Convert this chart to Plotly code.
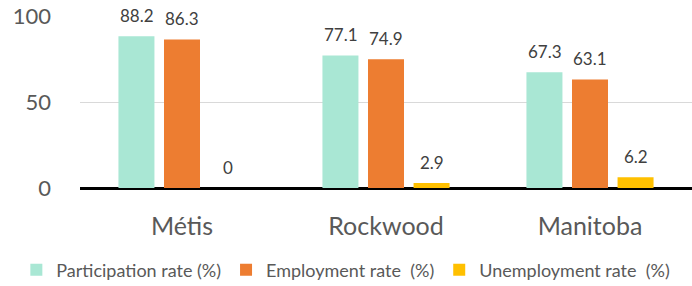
import plotly.graph_objects as go

categories = ["Métis", "Rockwood", "Manitoba"]
series_names = ["Participation rate (%)", "Employment rate  (%)", "Unemployment rate  (%)"]
participation = [88.2, 77.1, 67.3]
employment = [86.3, 74.9, 63.1]
unemployment = [0, 2.9, 6.2]
colors = ["#A9E7D4", "#ED7D31", "#FFC000"]
y_ticks = [0, 50, 100]

FONT = "Lato, Open Sans, sans-serif"
GREY = "#595959"

fig = go.Figure()
all_values = [participation, employment, unemployment]
for name, vals, col in zip(series_names, all_values, colors):
    fig.add_trace(go.Bar(
        x=categories, y=vals, name=name,
        marker=dict(color=col, line=dict(width=0)),
    ))

# data labels
shifts = [-45.5, 0, 45.5]
for vals, sh in zip(all_values, shifts):
    for c, v in zip(categories, vals):
        fig.add_annotation(
            x=c, y=v, text=f"{v:g}", showarrow=False,
            xshift=sh, yshift=21, yanchor="middle",
            font=dict(family=FONT, size=17, color="#404040"),
        )

fig.update_layout(
    width=692, height=286,
    margin=dict(l=80, r=0, t=16, b=98, autoexpand=False),
    paper_bgcolor="white", plot_bgcolor="white",
    barmode="group", bargap=0.33, bargroupgap=0.21,
    font=dict(family=FONT, color=GREY),
    showlegend=True,
    legend=dict(
        orientation="h", x=-0.104, xanchor="left",
        y=-0.477, yanchor="middle",
        font=dict(family=FONT, size=18, color=GREY),
        itemwidth=30, tracegroupgap=0,
    ),
    xaxis=dict(
        showgrid=False, showline=False, zeroline=False, automargin=False,
        tickfont=dict(family=FONT, size=25, color=GREY),
        ticks="", ticklabelstandoff=21,
    ),
    yaxis=dict(
        range=[0, 100], tickvals=y_ticks, automargin=False,
        showgrid=True, gridcolor="#D9D9D9", gridwidth=1,
        zeroline=True, zerolinecolor="black", zerolinewidth=3,
        showline=False,
        tickfont=dict(family=FONT, size=22, color=GREY),
        ticks="", ticklabelstandoff=28,
    ),
)

fig.write_html("out.html", config={"displayModeBar": False},
               post_script="document.body.style.margin='0';")
